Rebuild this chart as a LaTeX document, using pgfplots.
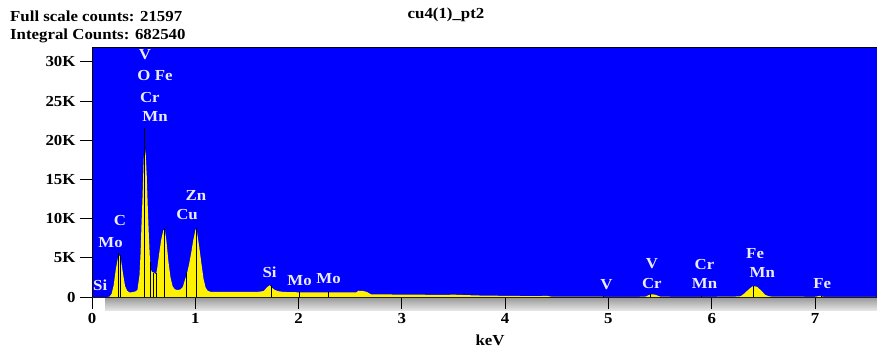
\documentclass[border=0pt]{standalone}
\usepackage{pgfplots}
\pgfplotsset{compat=1.18}
\usepackage{fontspec}
\setmainfont{Liberation Serif}
\newfontfamily\widefont[FakeStretch=1.1]{Liberation Serif}
\newcommand{\lbl}{\widefont\bfseries\fontsize{15.3}{16}\selectfont}
\definecolor{bandtop}{RGB}{150,150,150}
\definecolor{bandbot}{RGB}{228,228,228}
\definecolor{lab}{RGB}{235,235,255}
\begin{document}
\begin{tikzpicture}
\useasboundingbox (0,0) rectangle (877pt,349pt);
\shade[top color=bandtop, bottom color=bandbot] (105pt,39pt) rectangle (877pt,52pt);
\begin{axis}[
  at={(92pt,52pt)}, anchor=south west,
  width=785pt, height=250pt, scale only axis,
  xmin=0, xmax=7.6, ymin=0, ymax=31900,
  axis background/.style={fill=blue},
  axis line style={black, line width=1pt},
  tick pos=left, tick align=outside,
  major tick length=12pt,
  tick style={black, line width=1pt},
  xtick={0,1,2,3,4,5,6,7},
  ytick={0,5000,10000,15000,20000,25000,30000},
  yticklabels={0,5K,10K,15K,20K,25K,30K},
  /pgf/number format/assume math mode=true,
  ticklabel style={font=\lbl},
  xticklabel style={yshift=-1pt},
  yticklabel style={xshift=-1pt},
  scaled ticks=false,
  xlabel={keV},
  xlabel style={font=\lbl, at={(axis description cs:0.507,0)}, anchor=center, yshift=-43pt},
  clip=true,
]
\addplot[fill=yellow, draw=none] coordinates {
(0.00,0) (0.15,0) (0.17,50) (0.19,400) (0.21,1500) (0.23,3500) (0.25,4900)
(0.265,5300) (0.28,4800) (0.30,3000) (0.32,1400) (0.34,800) (0.36,600)
(0.38,600) (0.40,650) (0.42,700) (0.44,900) (0.46,2800) (0.47,5500) (0.48,9500)
(0.49,13000) (0.50,17500) (0.51,19000) (0.52,18200) (0.53,15500)
(0.54,11500) (0.55,8000) (0.56,5000) (0.57,3500) (0.58,3200) (0.60,3100)
(0.62,2900) (0.63,3500) (0.65,5500) (0.67,7300) (0.69,8500) (0.705,8600)
(0.72,7200) (0.74,4500) (0.76,2500) (0.78,1400) (0.80,1000) (0.82,900)
(0.84,900) (0.86,1000) (0.88,1300) (0.90,2200) (0.92,3000) (0.94,4200)
(0.96,5600) (0.98,7200) (1.00,8500) (1.01,8800) (1.02,8000) (1.04,6200)
(1.06,4200) (1.08,2300) (1.10,1200) (1.12,800) (1.15,650) (1.30,650)
(1.50,650) (1.60,650) (1.66,750) (1.70,1300) (1.72,1500) (1.74,1200)
(1.77,900) (1.80,750) (1.85,650) (2.00,600) (2.20,600) (2.40,600)
(2.50,580) (2.56,600) (2.58,800) (2.62,780) (2.66,650) (2.70,350)
(2.90,320) (3.10,300) (3.30,280) (3.45,280) (3.50,300) (3.60,250)
(3.72,200) (3.80,180) (4.00,150) (4.20,120) (4.30,100) (4.40,150)
(4.45,50) (4.60,60) (4.80,40) (5.00,30) (5.30,30) (5.36,60) (5.40,300)
(5.42,350) (5.45,300) (5.50,60) (5.60,30) (6.00,30) (6.20,40) (6.28,100)
(6.32,500) (6.36,1000) (6.40,1400) (6.44,1300) (6.48,800) (6.52,250)
(6.56,80) (6.60,40) (7.00,30) (7.05,150) (7.08,30) (7.60,0)
} \closedcycle;
\addplot[ycomb, black, line width=1pt, mark=none] coordinates {
(0.252,5600) (0.278,5300) (0.513,21600) (0.571,4500) (0.600,3000)
(0.626,3000) (0.705,8800) (0.917,3000) (1.012,8800) (1.735,1500)
(2.01,650) (2.29,700) (4.95,100) (5.41,350) (5.90,100) (6.40,1400) (7.06,150)
};
\begin{scope}[every node/.style={text=lab, font=\lbl, inner sep=0pt}]
\node at (axis cs:0.513,30900) {V};
\node at (axis cs:0.61,28200) {O Fe};
\node at (axis cs:0.56,25500) {Cr};
\node at (axis cs:0.61,23000) {Mn};
\node at (axis cs:0.27,9700) {C};
\node at (axis cs:0.18,7000) {Mo};
\node at (axis cs:0.08,1500) {Si};
\node at (axis cs:1.007,13000) {Zn};
\node at (axis cs:0.92,10500) {Cu};
\node at (axis cs:1.72,3200) {Si};
\node at (axis cs:2.01,2100) {Mo};
\node at (axis cs:2.29,2400) {Mo};
\node at (axis cs:4.98,1600) {V};
\node at (axis cs:5.42,4300) {V};
\node at (axis cs:5.42,1700) {Cr};
\node at (axis cs:5.93,4100) {Cr};
\node at (axis cs:5.93,1700) {Mn};
\node at (axis cs:6.42,5600) {Fe};
\node at (axis cs:6.49,3100) {Mn};
\node at (axis cs:7.07,1700) {Fe};
\end{scope}
\end{axis}
\node[font=\lbl, anchor=west, inner sep=0pt] at (10pt,333pt) {Full scale counts: 21597};
\node[font=\lbl, anchor=west, inner sep=0pt] at (10pt,313pt) {Integral Counts: 682540};
\node[font=\lbl, inner sep=0pt] at (446pt,334pt) {cu4(1)\_pt2};
\end{tikzpicture}
\end{document}
